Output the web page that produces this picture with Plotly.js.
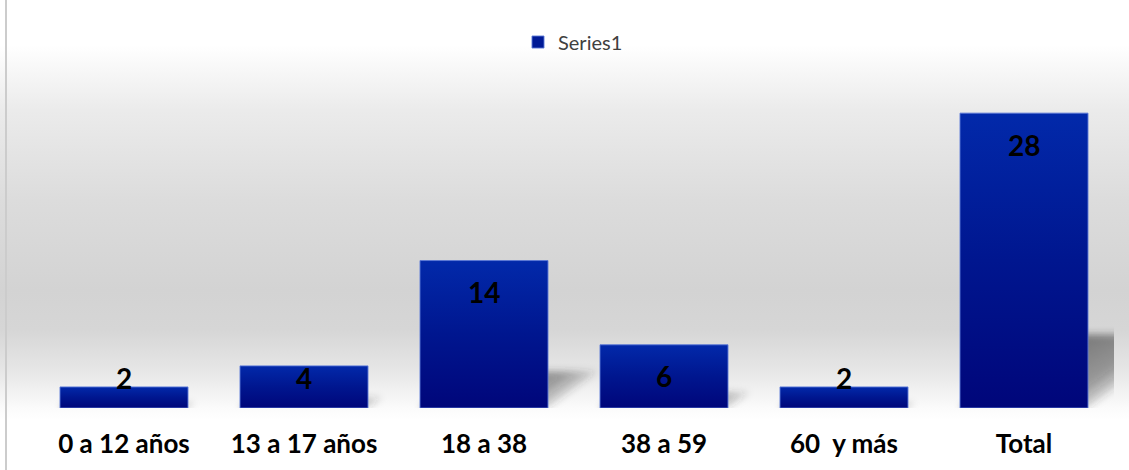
<!DOCTYPE html>
<html>
<head>
<meta charset="utf-8">
<script src="https://cdn.plot.ly/plotly-3.0.1.min.js"></script>
<style>
  html, body { margin: 0; padding: 0; background: #ffffff; }
  #chart {
    width: 1129px; height: 470px;
    background: linear-gradient(to bottom, #ffffff 0px, #ffffff 45px, #ebebeb 110px, #dcdcdc 200px, #d3d3d3 290px, #d6d6d6 330px, #e6e6e6 370px, #fbfbfb 408px, #ffffff 420px, #ffffff 470px);
  }
</style>
</head>
<body>
<div id="chart"></div>
<script>
const categories = ["0 a 12 años", "13 a 17 años", "18 a 38", "38 a 59", "60  y más", "Total"];
const values = [2, 4, 14, 6, 2, 28];
const seriesName = "Series1";

const labelOffset = 3.0;   // label sits just below the bar top
const labelFloor = 2.85;   // minimum label height for short bars

const annotations = categories.map((c, i) => ({
  x: c, y: Math.max(values[i] - labelOffset, labelFloor),
  xref: 'x', yref: 'y',
  text: String(values[i]), showarrow: false,
  font: { family: 'Lato', size: 28, color: '#000000', weight: 'bold' },
  yanchor: 'middle'
}));

const trace = {
  type: 'bar', x: categories, y: values, name: seriesName,
  marker: { color: '#001a96', line: { color: 'rgba(90,120,215,0.9)', width: 1 } },
  showlegend: true, hoverinfo: 'none'
};

const layout = {
  width: 1129, height: 470,
  margin: { l: 34, r: 15, t: 71, b: 62 },
  paper_bgcolor: 'rgba(0,0,0,0)', plot_bgcolor: 'rgba(0,0,0,0)',
  bargap: 0.289,
  showlegend: true,
  legend: {
    orientation: 'h', x: (518 - 34) / 1080, xanchor: 'left', y: 1.086, yanchor: 'middle',
    font: { family: 'Lato', size: 20, color: '#404040' }, bgcolor: 'rgba(0,0,0,0)'
  },
  xaxis: {
    showgrid: false, zeroline: false, showline: false, ticks: '',
    tickfont: { family: 'Lato', size: 26, color: '#000000', weight: 'bold' },
    ticklabelstandoff: 18, fixedrange: true
  },
  yaxis: { range: [0, 32], visible: false, showgrid: false, zeroline: false, fixedrange: true },
  annotations: annotations,
  shapes: [{
    type: 'line', xref: 'paper', yref: 'paper',
    x0: (6 - 34) / 1080, x1: (6 - 34) / 1080, y0: -62 / 337, y1: 1 + 71 / 337,
    line: { color: '#cccccc', width: 2 }
  }]
};

Plotly.newPlot('chart', [trace], layout, { displayModeBar: false, staticPlot: true }).then(gd => {
  const svg = gd.querySelector('svg.main-svg');
  const ns = 'http://www.w3.org/2000/svg';
  const defs = svg.querySelector('defs');
  const grad = document.createElementNS(ns, 'linearGradient');
  grad.setAttribute('id', 'barGrad');
  grad.setAttribute('x1', '0'); grad.setAttribute('y1', '0');
  grad.setAttribute('x2', '0'); grad.setAttribute('y2', '1');
  [['0', '#0229aa'], ['0.5', '#00168f'], ['1', '#00067a']].forEach(([o, c]) => {
    const s = document.createElementNS(ns, 'stop');
    s.setAttribute('offset', o); s.setAttribute('stop-color', c);
    grad.appendChild(s);
  });
  defs.appendChild(grad);

  const sgrad = document.createElementNS(ns, 'linearGradient');
  sgrad.setAttribute('id', 'shGrad');
  sgrad.setAttribute('x1', '0'); sgrad.setAttribute('y1', '0');
  sgrad.setAttribute('x2', '1'); sgrad.setAttribute('y2', '0');
  [['0', 'rgba(50,50,50,0.6)'], ['0.75', 'rgba(50,50,50,0.45)'], ['1', 'rgba(50,50,50,0.15)']].forEach(([o, c]) => {
    const s = document.createElementNS(ns, 'stop');
    s.setAttribute('offset', o); s.setAttribute('stop-color', c);
    sgrad.appendChild(s);
  });
  defs.appendChild(sgrad);

  const filt = document.createElementNS(ns, 'filter');
  filt.setAttribute('id', 'shBlur');
  filt.setAttribute('filterUnits', 'userSpaceOnUse');
  filt.setAttribute('x', '-100'); filt.setAttribute('y', '-100');
  filt.setAttribute('width', '1400'); filt.setAttribute('height', '700');
  const blur = document.createElementNS(ns, 'feGaussianBlur');
  blur.setAttribute('stdDeviation', '3.5');
  filt.appendChild(blur);
  defs.appendChild(filt);

  // perspective shadow: bars cast backwards, squashed and slanted
  const B = gd._fullLayout.yaxis.l2p(0);
  const sy = 0.25, sk = 1.35;
  const trace0 = gd.querySelector('.barlayer .trace');
  const bars = trace0.querySelector('.points');
  const outer = document.createElementNS(ns, 'g');
  outer.setAttribute('filter', 'url(#shBlur)');
  const shadowG = document.createElementNS(ns, 'g');
  shadowG.setAttribute('transform', `matrix(1,0,${-sk * sy},${sy},${sk * sy * B},${(1 - sy) * B})`);
  outer.appendChild(shadowG);
  gd.querySelectorAll('.barlayer .point path').forEach(p => {
    const c = p.cloneNode(true);
    c.removeAttribute('style');
    c.setAttribute('fill', 'url(#shGrad)');
    shadowG.appendChild(c);
    p.style.fill = 'url(#barGrad)';
  });
  trace0.insertBefore(outer, bars);
});
</script>
</body>
</html>
